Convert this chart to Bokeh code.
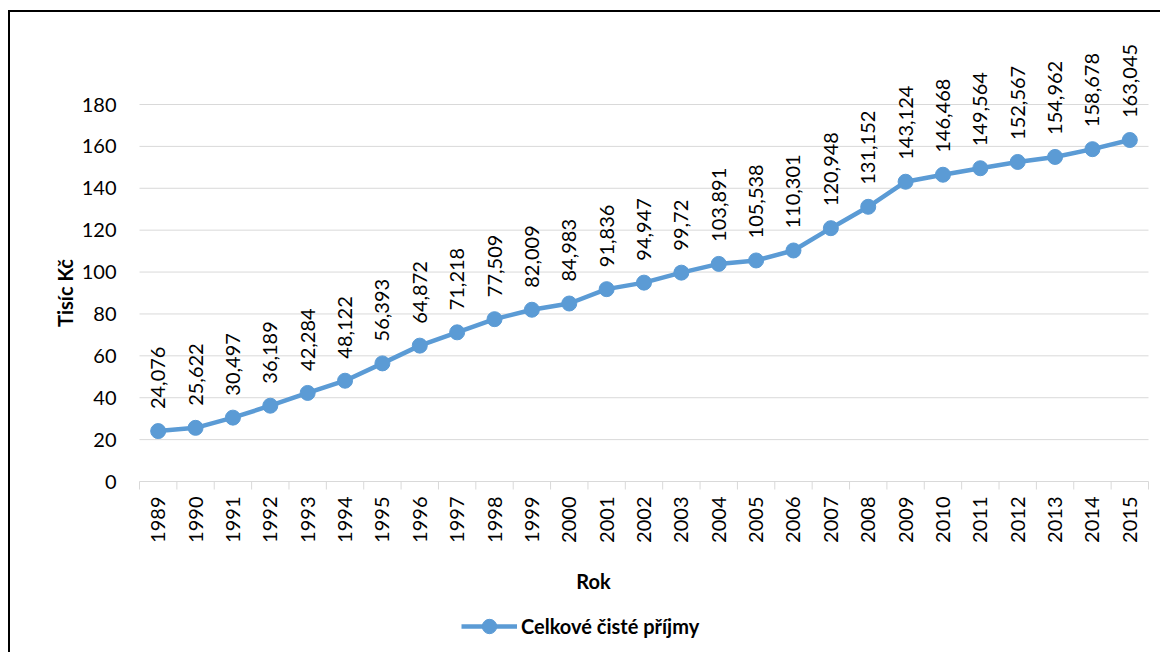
import math
from bokeh.plotting import figure
from bokeh.models import (ColumnDataSource, Range1d, LabelSet, Label, Legend, LegendItem)
from bokeh.core.properties import value
from bokeh.embed import file_html
from bokeh.resources import INLINE

years = [1989, 1990, 1991, 1992, 1993, 1994, 1995, 1996, 1997, 1998, 1999, 2000, 2001, 2002,
         2003, 2004, 2005, 2006, 2007, 2008, 2009, 2010, 2011, 2012, 2013, 2014, 2015]
values = [24.076, 25.622, 30.497, 36.189, 42.284, 48.122, 56.393, 64.872, 71.218, 77.509,
          82.009, 84.983, 91.836, 94.947, 99.72, 103.891, 105.538, 110.301, 120.948, 131.152,
          143.124, 146.468, 149.564, 152.567, 154.962, 158.678, 163.045]
labels = [f"{v:g}".replace(".", ",") for v in values]
y_ticks = [0, 20, 40, 60, 80, 100, 120, 140, 160, 180]
x_title = "Rok"
y_title = "Tisíc Kč"
series_name = "Celkové čisté příjmy"

FONT = "Lato"
BLUE = "#5B9BD5"
GRID = "#D9D9D9"

# ---- layout (pixels inside the canvas) ----
W, H = 1150, 640
PLOT_L, PLOT_R = 129, 1138      # plot area left/right
PLOT_T, PLOT_B = 92, 469        # y=180 line / y=0 axis line
x_lo, x_hi = years[0] - 0.5, years[-1] + 0.5
y_lo, y_hi = y_ticks[0], y_ticks[-1]
ppx = (PLOT_R - PLOT_L) / (x_hi - x_lo)
ppy = (PLOT_B - PLOT_T) / (y_hi - y_lo)
xr = Range1d(x_lo - PLOT_L / ppx, x_hi + (W - PLOT_R) / ppx)
yr = Range1d(y_lo - (H - PLOT_B) / ppy, y_hi + PLOT_T / ppy)

p = figure(frame_width=W, frame_height=H, output_backend="svg", toolbar_location=None,
           x_range=xr, y_range=yr, x_axis_location=None, y_axis_location=None,
           min_border=0)
p.styles = {"border-left": "2px solid black", "border-top": "2px solid black",
            "margin-left": "8px", "margin-top": "10px"}
p.outline_line_color = None
p.background_fill_color = "white"
p.border_fill_color = "white"
p.grid.visible = False

# horizontal gridlines (the one at 0 is the category axis line)
p.segment(x0=[x_lo] * len(y_ticks), x1=[x_hi] * len(y_ticks), y0=y_ticks, y1=y_ticks,
          line_color=GRID, line_width=1)

# category boundary tick marks
boundaries = [y - 0.5 for y in years] + [years[-1] + 0.5]
tick_len = 8 / ppy
p.segment(x0=boundaries, x1=boundaries, y0=[0] * len(boundaries),
          y1=[-tick_len] * len(boundaries), line_color=GRID, line_width=1)

# y tick labels
ysrc = ColumnDataSource(dict(x=[x_lo] * len(y_ticks), y=y_ticks, t=[str(v) for v in y_ticks]))
p.add_layout(LabelSet(x="x", y="y", text="t", source=ysrc, x_offset=-23,
                      text_align="right", text_baseline="middle",
                      text_font=value(FONT), text_font_size="20px", text_color="black"))

# x tick labels (rotated)
xsrc = ColumnDataSource(dict(x=years, y=[0] * len(years), t=[str(v) for v in years]))
p.add_layout(LabelSet(x="x", y="y", text="t", source=xsrc, y_offset=-15, angle=math.pi / 2,
                      text_align="right", text_baseline="middle",
                      text_font=value(FONT), text_font_size="20px", text_color="black"))

# axis titles
p.add_layout(Label(x=x_lo, y=(y_lo + y_hi) / 2, x_offset=-75, angle=math.pi / 2,
                   text=y_title, text_align="center", text_baseline="middle",
                   text_font=FONT, text_font_style="bold", text_font_size="20px",
                   text_color="black"))
p.add_layout(Label(x=x_lo, y=0, x_offset=454, y_offset=-99, text=x_title,
                   text_align="center", text_baseline="middle",
                   text_font=FONT, text_font_style="bold", text_font_size="20px",
                   text_color="black"))

# series
src = ColumnDataSource(dict(x=years, y=values, lab=labels))
ln = p.line("x", "y", source=src, line_color=BLUE, line_width=4.5)
sc = p.scatter("x", "y", source=src, size=15, fill_color=BLUE, line_color=BLUE)

p.add_layout(LabelSet(x="x", y="y", text="lab", source=src, angle=math.pi / 2,
                      text_align="left", text_baseline="middle", y_offset=22,
                      text_font=value(FONT), text_font_size="20px", text_color="black"))

legend = Legend(items=[LegendItem(label=series_name, renderers=[ln, sc])],
                location=(451, 8), orientation="horizontal",
                border_line_color=None, background_fill_alpha=0,
                label_text_font=FONT, label_text_font_style="bold",
                label_text_font_size="20px", label_text_color="black",
                glyph_width=56, glyph_height=36, label_standoff=4,
                margin=0, padding=1)
p.add_layout(legend)

open("out.html", "w").write(file_html(p, INLINE))
